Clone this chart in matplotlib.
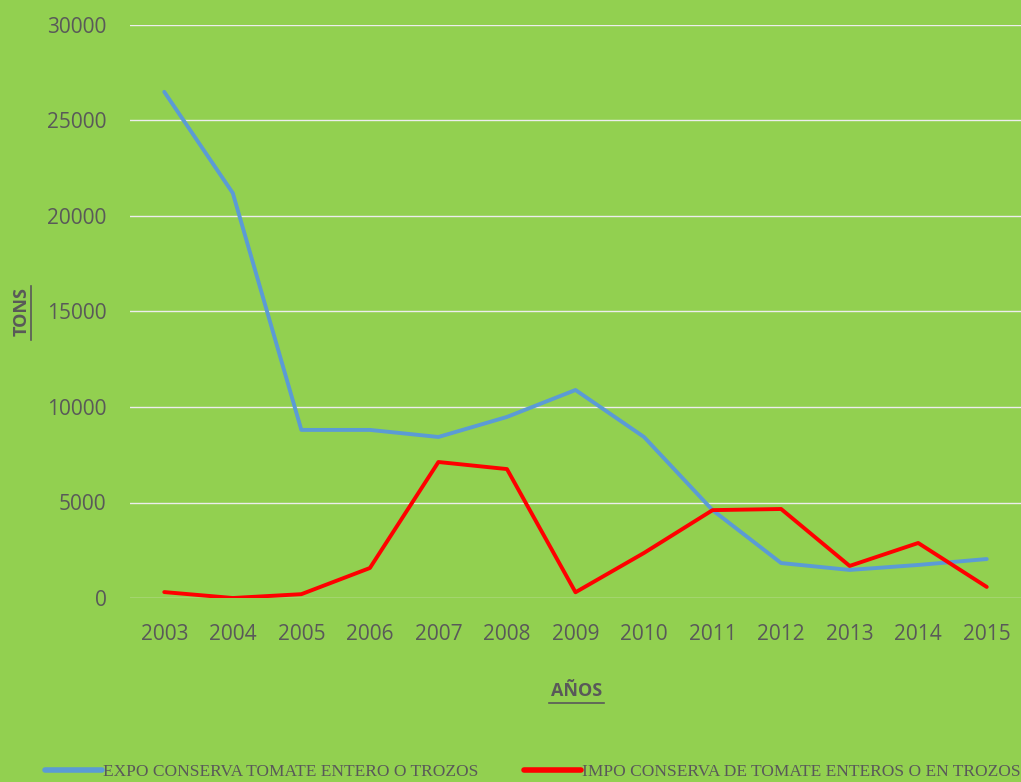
import matplotlib
matplotlib.use("Agg")
import matplotlib.pyplot as plt
from matplotlib.lines import Line2D

years = ["2003", "2004", "2005", "2006", "2007", "2008", "2009", "2010", "2011", "2012", "2013", "2014", "2015"]
expo = [26500, 21200, 8800, 8800, 8430, 9480, 10890, 8430, 4600, 1830, 1470, 1730, 2040]
impo = [310, 0, 200, 1570, 7120, 6750, 300, 2360, 4600, 4660, 1680, 2880, 580]
expo_label = "EXPO CONSERVA TOMATE ENTERO O TROZOS"
impo_label = "IMPO CONSERVA DE TOMATE ENTEROS O EN TROZOS"
yticks = [0, 5000, 10000, 15000, 20000, 25000, 30000]

bg = "#92D050"
txt = "#595959"

fig = plt.figure(figsize=(10.21, 7.82), dpi=100, facecolor=bg)
W, H = 1021, 782
ax = fig.add_axes([130 / W, (H - 598) / H, (W - 130) / W, (598 - 25) / H], facecolor=bg)

x = list(range(len(years)))
l1, = ax.plot(x, expo, color="#5B9BD5", lw=2.8, solid_capstyle="round")
l2, = ax.plot(x, impo, color="#FF0000", lw=2.8, solid_capstyle="round")

ax.set_xlim(-0.5, len(years) - 0.5)
ax.set_ylim(0, 30000)
ax.set_yticks(yticks)
ax.set_yticklabels([str(v) for v in yticks])
ax.set_xticks(x)
ax.set_xticklabels(years)
ax.grid(axis="y", color="#EDEDED", lw=1.0)
ax.set_axisbelow(True)
for s in ax.spines.values():
    s.set_visible(False)
ax.tick_params(axis="both", length=0, labelsize=15, labelcolor=txt)
ax.tick_params(axis="y", pad=17)
ax.tick_params(axis="x", pad=19)
for lab in ax.get_xticklabels() + ax.get_yticklabels():
    lab.set_fontfamily("Open Sans")

# axis titles with underline
fig.text(22 / W, 1 - 312 / H, "TONS", rotation=90, ha="center", va="center",
         fontsize=13, fontweight="bold", color=txt, fontfamily="Open Sans")
fig.add_artist(Line2D([31 / W, 31 / W], [1 - 340 / H, 1 - 286 / H], color=txt, lw=1.2))
fig.text(577 / W, 1 - 691 / H, "AÑOS", ha="center", va="center",
         fontsize=13, fontweight="bold", color=txt, fontfamily="Open Sans")
fig.add_artist(Line2D([549 / W, 604 / W], [1 - 703 / H, 1 - 703 / H], color=txt, lw=1.2))

leg = fig.legend([l1, l2], [expo_label, impo_label], loc="center left",
                 bbox_to_anchor=(45 / W, 1 - 772 / H), ncol=2, frameon=False,
                 borderaxespad=0, borderpad=0,
                 handlelength=3.3, handletextpad=0.05, columnspacing=2.6,
                 prop={"family": "Liberation Serif", "size": 12.5})
for t in leg.get_texts():
    t.set_color(txt)
for h in leg.get_lines():
    h.set_linewidth(4)

fig.savefig("out.png", dpi=100, facecolor=bg)
